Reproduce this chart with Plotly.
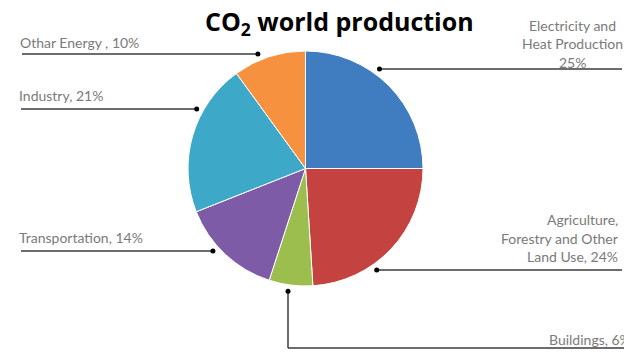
import math
import plotly.graph_objects as go

# ---- data ----
categories = ["Electricity and Heat Production", "Agriculture, Forestry and Other Land Use",
              "Buildings", "Transportation", "Industry", "Other Energy"]
shares = [25, 24, 6, 14, 21, 10]
label_lines = [["Electricity and", "Heat Production", "{v}%"],
               ["Agriculture,", "Forestry and Other", "Land Use, {v}%"],
               ["Buildings, {v}%"],
               ["Transportation, {v}%"],
               ["Industry, {v}%"],
               ["Othar Energy , {v}%"]]
slice_colors = ["#3F7CC0", "#C4423F", "#9BBE4E", "#7E5BA6", "#3DA8C7", "#F6913F"]
title_text = "CO<sub>2</sub> world production"

# ---- layout constants (pixels) ----
W, H = 624, 352
CX, CY, R = 305.5, 168.5, 117.5
DOT_R = 124
# leader: (kind, pos, far end)  kind "L"/"R" horizontal at y=pos; "V" vertical at x=pos
leaders = [("R", 69, 622), ("R", 270, 622), ("V", 288, 348), ("L", 251, 21), ("L", 109, 21), ("L", 54, 22)]
# text placement: (x, [y per line], xanchor)
text_pos = [(572, [25, 43, 62], "center"),
            (620, [219, 238, 256], "right"),
            (547, [339], "left"),
            (17, [237], "left"),
            (17, [95], "left"),
            (18, [42], "left")]


def px(x):
    return x / W


def py(y):
    return 1 - y / H


fig = go.Figure(go.Pie(
    labels=categories, values=shares, sort=False, direction="clockwise", rotation=0,
    marker=dict(colors=slice_colors, line=dict(color="white", width=1)),
    textinfo="none", hoverinfo="label+percent", showlegend=False,
    domain=dict(x=[px(CX - R), px(CX + R)], y=[py(CY + R), py(CY - R)]),
))

shapes = []
annotations = []
LINE_COL = "#3c3c3c"
for (kind, pos, end), (tx, tys, anchor), lines, v in zip(leaders, text_pos, label_lines, shares):
    if kind == "V":
        dx_ = pos
        dy_ = CY + math.sqrt(DOT_R ** 2 - (pos - CX) ** 2)
        shapes.append(dict(type="line", xref="paper", yref="paper", x0=px(dx_), y0=py(dy_), x1=px(dx_), y1=py(end),
                           line=dict(color=LINE_COL, width=1.5)))
        shapes.append(dict(type="line", xref="paper", yref="paper", x0=px(dx_), y0=py(end), x1=px(W), y1=py(end),
                           line=dict(color=LINE_COL, width=1.5)))
    else:
        dy_ = pos
        off = math.sqrt(DOT_R ** 2 - (pos - CY) ** 2)
        dx_ = CX + off if kind == "R" else CX - off
        shapes.append(dict(type="line", xref="paper", yref="paper", x0=px(dx_), y0=py(dy_), x1=px(end), y1=py(dy_),
                           line=dict(color=LINE_COL, width=1.5)))
    shapes.append(dict(type="circle", xref="paper", yref="paper", x0=px(dx_ - 2.5), x1=px(dx_ + 2.5),
                       y0=py(dy_ + 2.5), y1=py(dy_ - 2.5), fillcolor="black", line=dict(width=0)))
    for line, ty in zip(lines, tys):
        annotations.append(dict(text=line.format(v=v), x=px(tx), y=py(ty), xref="paper", yref="paper",
                                xanchor=anchor, yanchor="middle", showarrow=False,
                                font=dict(family="Lato", size=14, color="#7a7a7a")))

annotations.append(dict(text=title_text, x=px(340), y=py(23), xref="paper", yref="paper",
                        xanchor="center", yanchor="middle", showarrow=False,
                        font=dict(family="Open Sans", size=25, color="black", weight="bold")))

fig.update_layout(width=W, height=H, margin=dict(l=0, r=0, t=0, b=0),
                  paper_bgcolor="white", plot_bgcolor="white",
                  shapes=shapes, annotations=annotations)
fig.write_html("out.html")
